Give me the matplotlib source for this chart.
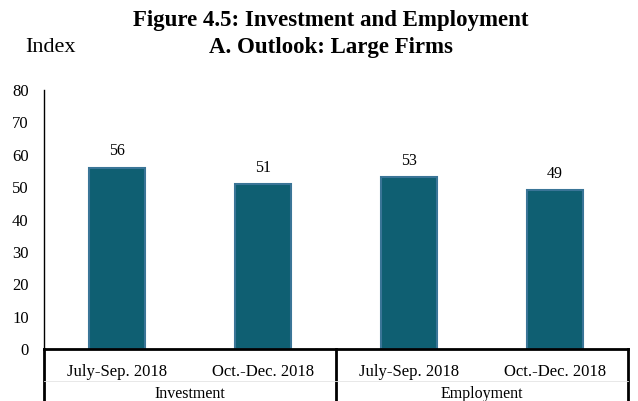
import numpy as np
import matplotlib.pyplot as plt

categories = ["July-Sep. 2018", "Oct.-Dec. 2018", "July-Sep. 2018", "Oct.-Dec. 2018"]
groups = ["Investment", "Employment"]
values = [56, 51, 53, 49]
yticks = [0, 10, 20, 30, 40, 50, 60, 70, 80]

plt.rcParams['font.family'] = ['Liberation Serif', 'DejaVu Serif']

fig = plt.figure(figsize=(6.38, 4.01), dpi=100)
ax = fig.add_axes([44 / 638, 52 / 401, 584 / 638, 259 / 401])

x = np.arange(len(values))
bars = ax.bar(x, values, width=0.38, color="#0f5f72", edgecolor="#3a7597", linewidth=1.5)

for xi, v in zip(x, values):
    ax.annotate(f"{v}", (xi, v), xytext=(0, 6), textcoords="offset points",
                ha="center", va="bottom", fontsize=11.5)

ax.set_xlim(-0.5, len(values) - 0.5)
ax.set_ylim(0, 80)
ax.set_yticks(yticks)
ax.tick_params(axis="y", length=0, pad=11, labelsize=12)
ax.set_xticks(x)
ax.set_xticklabels(categories)
ax.tick_params(axis="x", length=0, pad=11, labelsize=12)

for s in ["top", "right", "bottom"]:
    ax.spines[s].set_visible(False)
ax.spines["left"].set_linewidth(1.0)

# table box under the axis
tr = ax.transAxes
ax.plot([0, 1], [0, 0], color="black", lw=2, transform=tr, clip_on=False)
for xv in [0, 0.5, 1]:
    ax.plot([xv, xv], [0, -0.25], color="black", lw=2, transform=tr, clip_on=False)
ax.plot([0, 1], [-0.124, -0.124], color="#e4e4e4", lw=0.6, transform=tr, clip_on=False)

for i, g in enumerate(groups):
    ax.text(0.25 + 0.5 * i, -0.172, g, transform=tr, ha="center", va="center", fontsize=11.5)

fig.text(0.518, 0.948, "Figure 4.5: Investment and Employment", ha="center", va="center",
         fontsize=16.5, fontweight="bold")
fig.text(0.518, 0.882, "A. Outlook: Large Firms", ha="center", va="center",
         fontsize=16.5, fontweight="bold")
fig.text(0.04, 0.882, "Index", ha="left", va="center", fontsize=16)

fig.savefig("out.png", dpi=100)
